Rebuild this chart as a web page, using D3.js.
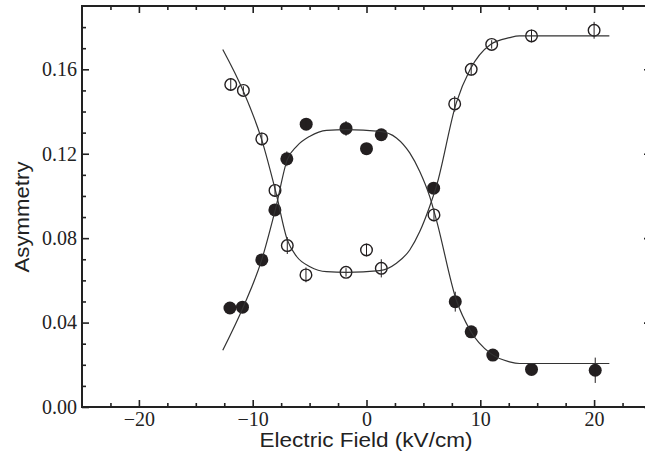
<!DOCTYPE html>
<html lang="en">
<head>
<meta charset="UTF-8">
<title>Asymmetry vs Electric Field</title>
<script src="https://d3js.org/d3.v7.min.js"></script>
<style>
  body { margin: 0; background: #fff; }
  svg { display: block; }
</style>
</head>
<body>
<div id="chart"></div>
<script>
// measured points: field (kV/cm), asymmetry, error
const closedX   = [-12, -10.9, -9.2, -8.05, -7, -5.3, -1.8, 0, 1.3, 5.9, 7.8, 9.2, 11.1, 14.5, 20.1];
const closedY   = [0.0469, 0.0473, 0.0697, 0.0934, 0.1176, 0.134, 0.132, 0.1224, 0.129, 0.1037, 0.0499, 0.0356, 0.0246, 0.0178, 0.0174];
const closedErr = [0.002, 0.002, 0.002, 0.002, 0.0035, 0.002, 0.0035, 0.002, 0.002, 0.002, 0.0047, 0.002, 0.002, 0.002, 0.006];

const openX   = [-11.93, -10.82, -9.2, -8.04, -6.96, -5.32, -1.8, 0, 1.3, 5.93, 7.75, 9.2, 11.0, 14.5, 20.0];
const openY   = [0.1528, 0.150, 0.127, 0.1026, 0.0765, 0.0626, 0.0638, 0.0744, 0.0657, 0.091, 0.1436, 0.160, 0.1718, 0.1758, 0.1785];
const openErr = [0.003, 0.002, 0.003, 0.003, 0.004, 0.0035, 0.002, 0.003, 0.0043, 0.003, 0.0037, 0.003, 0.002, 0.003, 0.004];

// fitted curves
const fitX       = [-12.63, -10.82, -9.21, -7.98, -6.96, -6.14, -4.97, -3.51, -1.75, 1.17, 2.63, 3.80, 4.68, 5.55, 6.14, 7.89, 9.1, 10.9, 12.57, 13.45, 21.34];
const fitOpenY   = [0.1694, 0.1496, 0.1267, 0.1021, 0.0792, 0.0713, 0.0665, 0.0641, 0.0638, 0.0646, 0.0681, 0.0744, 0.0831, 0.0950, 0.1045, 0.1441, 0.1599, 0.1718, 0.1750, 0.1758, 0.1758];
const fitClosedY = [0.0269, 0.0475, 0.0697, 0.0942, 0.1172, 0.1235, 0.1283, 0.1311, 0.1314, 0.1306, 0.1275, 0.1204, 0.1116, 0.0998, 0.0887, 0.0507, 0.0364, 0.0254, 0.0214, 0.0206, 0.0206];

const xMajor = [-20, -10, 0, 10, 20];
const yMajor = [0, 0.04, 0.08, 0.12, 0.16];

const W = 645, H = 459;
const x = d3.scaleLinear().domain([-25, 25]).range([82, 651]);
const y = d3.scaleLinear().domain([0, 0.19]).range([407, 6]);

const svg = d3.select("#chart").append("svg").attr("width", W).attr("height", H);

const xMinor = d3.range(-22.5, 25, 2.5).filter(v => !xMajor.includes(v));
const yMinor = d3.range(1, 19).map(v => v / 100).filter(v => !yMajor.some(m => Math.abs(m - v) < 1e-9));

function styleAxis(g) {
  g.select(".domain").remove();
  g.selectAll(".tick line").attr("stroke", "#222").attr("stroke-width", 1.6);
  g.selectAll(".tick text")
    .style("font-family", "'Liberation Serif', 'Times New Roman', serif")
    .style("font-size", "20px")
    .attr("fill", "#222");
}

// bottom
svg.append("g").attr("transform", `translate(0,${y(0)})`)
  .call(d3.axisBottom(x).tickValues(xMajor).tickSize(-7).tickPadding(5).tickFormat(d3.format("d")))
  .call(styleAxis);
svg.append("g").attr("transform", `translate(0,${y(0)})`)
  .call(d3.axisBottom(x).tickValues(xMinor).tickSize(-4).tickFormat(""))
  .call(styleAxis);
// top
svg.append("g").attr("transform", `translate(0,${y(0.19)})`)
  .call(d3.axisTop(x).tickValues(xMajor).tickSize(-7).tickFormat(""))
  .call(styleAxis);
svg.append("g").attr("transform", `translate(0,${y(0.19)})`)
  .call(d3.axisTop(x).tickValues(xMinor).tickSize(-4).tickFormat(""))
  .call(styleAxis);
// left
svg.append("g").attr("transform", `translate(${x(-25)},0)`)
  .call(d3.axisLeft(y).tickValues(yMajor).tickSize(-7).tickPadding(5).tickFormat(d3.format(".2f")))
  .call(styleAxis);
svg.append("g").attr("transform", `translate(${x(-25)},0)`)
  .call(d3.axisLeft(y).tickValues(yMinor).tickSize(-4).tickFormat(""))
  .call(styleAxis);
// right
svg.append("g").attr("transform", `translate(${x(25)},0)`)
  .call(d3.axisRight(y).tickValues(yMajor).tickSize(-7).tickFormat(""))
  .call(styleAxis);

// frame
svg.append("rect")
  .attr("x", x(-25)).attr("y", y(0.19))
  .attr("width", x(25) - x(-25)).attr("height", y(0) - y(0.19))
  .attr("fill", "none").attr("stroke", "#222").attr("stroke-width", 2);

// points
const closed = closedX.map((v, i) => ({ x: v, y: closedY[i], e: closedErr[i] }));
const open = openX.map((v, i) => ({ x: v, y: openY[i], e: openErr[i] }));

svg.append("g").selectAll("circle").data(closed).join("circle")
  .attr("cx", d => x(d.x)).attr("cy", d => y(d.y)).attr("r", 6.5)
  .attr("fill", "#231f20");

svg.append("g").selectAll("circle").data(open).join("circle")
  .attr("cx", d => x(d.x)).attr("cy", d => y(d.y)).attr("r", 5.8)
  .attr("fill", "#fff").attr("stroke", "#231f20").attr("stroke-width", 1.4);

// error bars
svg.append("g").selectAll("line").data(closed.concat(open)).join("line")
  .attr("x1", d => x(d.x)).attr("x2", d => x(d.x))
  .attr("y1", d => y(d.y - d.e)).attr("y2", d => y(d.y + d.e))
  .attr("stroke", "#231f20").attr("stroke-width", 1);

// fit curves
const line = d3.line().curve(d3.curveMonotoneX);
svg.append("path")
  .attr("d", line(fitX.map((v, i) => [x(v), y(fitOpenY[i])])))
  .attr("fill", "none").attr("stroke", "#333").attr("stroke-width", 1.2);
svg.append("path")
  .attr("d", line(fitX.map((v, i) => [x(v), y(fitClosedY[i])])))
  .attr("fill", "none").attr("stroke", "#333").attr("stroke-width", 1.2);

// titles
const titleFont = "'Liberation Sans', Arial, sans-serif";
svg.append("text")
  .attr("x", 366).attr("y", 447).attr("text-anchor", "middle")
  .style("font-family", titleFont).style("font-size", "20px").attr("fill", "#222")
  .attr("textLength", 213).attr("lengthAdjust", "spacingAndGlyphs")
  .text("Electric Field (kV/cm)");
svg.append("text")
  .attr("transform", "translate(29,217) rotate(-90)").attr("text-anchor", "middle")
  .style("font-family", titleFont).style("font-size", "20px").attr("fill", "#222")
  .attr("textLength", 111).attr("lengthAdjust", "spacingAndGlyphs")
  .text("Asymmetry");
</script>
</body>
</html>
